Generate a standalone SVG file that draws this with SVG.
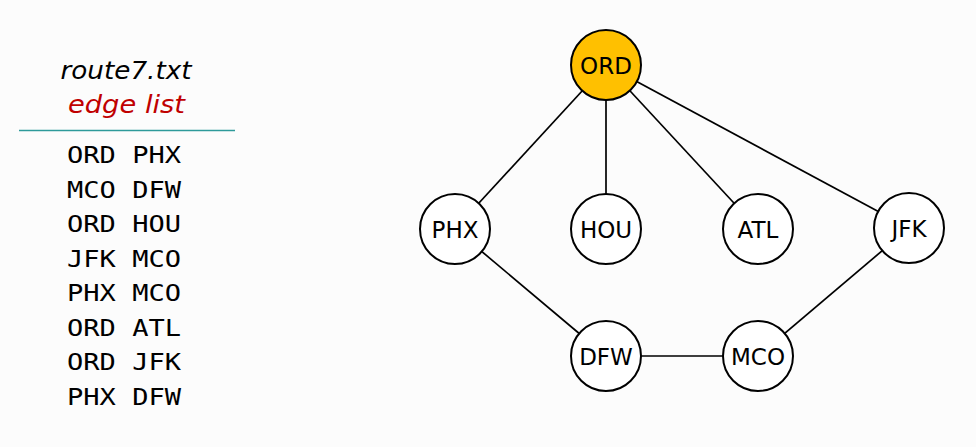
<svg xmlns="http://www.w3.org/2000/svg" width="976" height="447" viewBox="0 0 976 447">
<style>
.bg{fill:#fcfcfc}
.edge{stroke:#000;stroke-width:1.7;fill:none}
.node circle{fill:#fff;stroke:#000;stroke-width:2}
.node.hl circle{fill:#FFC000}
.node text{font-family:"Century Gothic","DejaVu Sans",sans-serif;font-size:23px;text-anchor:middle;fill:#000}
.title{font-family:"Century Gothic","DejaVu Sans",sans-serif;font-style:italic;font-size:25px;text-anchor:middle}
.mono{font-family:"DejaVu Sans Mono","Liberation Mono",monospace;font-size:23px;fill:#000}
</style>
<rect class="bg" x="0" y="0" width="976" height="447"/>
<g id="legend">
<text class="title" x="126" y="79" fill="#000" textLength="131" lengthAdjust="spacingAndGlyphs">route7.txt</text>
<text class="title" x="126.5" y="113" fill="#C00000" textLength="117" lengthAdjust="spacingAndGlyphs">edge list</text>
<line x1="19" y1="130.5" x2="235" y2="130.5" stroke="#2E9A9A" stroke-width="1.3"/>
<g class="mono">
<text x="67" y="163" textLength="114" lengthAdjust="spacingAndGlyphs">ORD PHX</text>
<text x="67" y="197.5" textLength="114" lengthAdjust="spacingAndGlyphs">MCO DFW</text>
<text x="67" y="232" textLength="114" lengthAdjust="spacingAndGlyphs">ORD HOU</text>
<text x="67" y="266.5" textLength="114" lengthAdjust="spacingAndGlyphs">JFK MCO</text>
<text x="67" y="301" textLength="114" lengthAdjust="spacingAndGlyphs">PHX MCO</text>
<text x="67" y="335.5" textLength="114" lengthAdjust="spacingAndGlyphs">ORD ATL</text>
<text x="67" y="370" textLength="114" lengthAdjust="spacingAndGlyphs">ORD JFK</text>
<text x="67" y="404.5" textLength="114" lengthAdjust="spacingAndGlyphs">PHX DFW</text>
</g>
</g>
<g id="connectors">
<line class="edge" x1="606" y1="65" x2="455" y2="229"/>
<line class="edge" x1="606" y1="65" x2="606" y2="229"/>
<line class="edge" x1="606" y1="65" x2="758" y2="229"/>
<line class="edge" x1="606" y1="65" x2="909" y2="228"/>
<line class="edge" x1="455" y1="229" x2="606" y2="356"/>
<line class="edge" x1="606" y1="356" x2="758" y2="356"/>
<line class="edge" x1="758" y1="356" x2="909" y2="228"/>
</g>
<g id="node-ORD" class="node hl"><circle cx="606" cy="65" r="35"/><text x="606" y="73.5">ORD</text></g>
<g id="node-PHX" class="node"><circle cx="455" cy="229" r="35"/><text x="455" y="237.5">PHX</text></g>
<g id="node-HOU" class="node"><circle cx="606" cy="229" r="35"/><text x="606" y="237.5">HOU</text></g>
<g id="node-ATL" class="node"><circle cx="758" cy="229" r="35"/><text x="758" y="237.5">ATL</text></g>
<g id="node-JFK" class="node"><circle cx="909" cy="228" r="35"/><text x="909" y="236.5">JFK</text></g>
<g id="node-DFW" class="node"><circle cx="606" cy="356" r="35"/><text x="606" y="364.5">DFW</text></g>
<g id="node-MCO" class="node"><circle cx="758" cy="356" r="35"/><text x="758" y="364.5">MCO</text></g>
</svg>
